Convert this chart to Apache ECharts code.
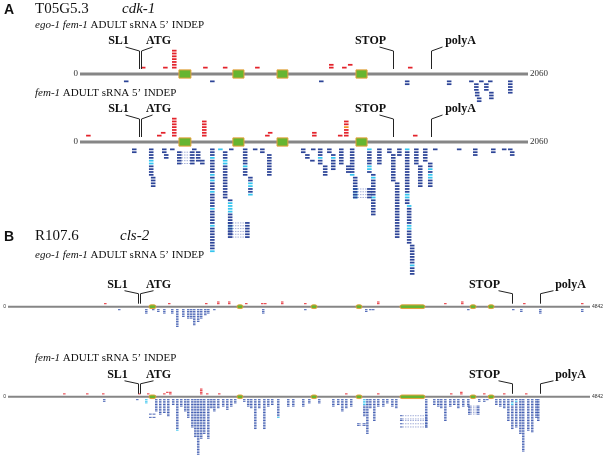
<!DOCTYPE html>
<html><head><meta charset="utf-8">
<script src="https://cdn.jsdelivr.net/npm/echarts@6/dist/echarts.min.js"></script>
<style>html,body{margin:0;padding:0;background:#fff}#c{width:603px;height:461px}</style>
</head><body><div id="c"></div>
<script>
// ---------------- DATA ----------------
const geneLenA = 2060;
const geneLenB = 4842;
const exonsA = [[455,510],[703,754],[906,956],[1269,1320]];
const exonsB = [[1173,1231],[1905,1955],[2521,2571],[2895,2945],[3261,3469],[3844,3894],[3994,4044]];
const annotLabels = ['SL1','ATG','STOP','polyA'];
const annotA = [[270,0],[281,1],[1439,2],[1614,3]];
const annotB = [[1082,0],[1098,1],[4193,2],[4426,3]];

// read stacks: [start bp, first level, last level, highlighted levels]
const a1Sense = [[280,1,1],[382,1,1],[423,1,7],[566,1,1],[657,1,1],[805,1,1],[1145,1,2],[1205,1,1],[1232,2,2],[1508,1,1]];
const a1Anti = [[202,1,1],[598,1,1],[1099,1,1],[1494,1,2],[1687,1,2],[1789,1,1],[1812,2,4],[1816,5,6],[1825,7,8],[1835,1,1],[1858,2,4],[1881,5,7],[1876,1,1],[1968,1,5]];
const a2Sense = [[28,1,1],[354,1,1],[372,2,2],[423,1,7],[561,1,6],[851,1,1],[864,2,2],[1067,1,2],[1186,1,1],[1214,1,6,[4]],[1531,1,1]];
const a2Anti = [[239,1,2],[317,1,10,[5,6]],[326,11,14],[377,1,2],[386,3,4],[414,1,1],[515,1,1],[533,2,5],[552,5,6],
  [598,1,37,[4,10,12,16,22,28,37]],[635,1,1,[1]],[657,2,18,[5,6]],[680,19,31,[20,21,22,23,28,29]],[685,1,1],
  [749,1,10,[7]],[773,11,17,[13,14,17]],[795,1,1],[828,1,2],[860,3,10],[1016,1,2],[1035,3,4],[1058,5,5],[1062,1,1],
  [1094,1,6,[4]],[1117,7,10],[1136,1,2],[1154,3,8,[4]],[1191,1,6],[1223,7,9],[1241,1,10,[10]],[1255,11,18,[15,16,17,18]],
  [1320,1,9,[1,7,8]],[1338,10,24,[11,18]],[1366,1,6],[1412,1,2],[1430,3,12],[1448,13,32],[1458,1,3],
  [1494,1,20,[1,17,18]],[1503,21,34,[21,28,29]],[1517,35,45,[42]],[1536,1,6],[1554,7,14],[1577,1,5],[1600,6,14,[8,10,11]],
  [1623,1,1],[1733,1,1],[1807,1,3],[1890,1,2],[1940,1,1],[1968,1,1],[1977,2,3]];
const a2Spliced = [[446,506,2],[446,506,3],[446,506,4],[446,506,5],[446,506,6],
  [680,759,27],[680,759,28],[680,759,29],[680,759,30],[680,759,31],[680,759,32],
  [1255,1320,15],[1255,1320,16],[1255,1320,17],[1255,1320,18]];

const b1Sense = [[799,1,1],[1331,1,1],[1639,1,1],[1739,1,2],[1830,1,2],[1972,1,1],[2105,1,1],[2130,1,1],[2271,1,2],[2463,1,1],[3070,1,2],[3628,1,1],[3769,1,2],[4285,1,1],[4767,1,1]];
const b1Anti = [[915,1,1],[1140,1,3],[1198,1,1],[1240,1,2],[1290,1,3],[1356,1,3],[1398,1,11],[1448,1,5],[1489,1,6],[1514,1,6],[1539,1,10],[1572,1,8],[1597,1,6],[1631,1,4],[1656,1,3],[1706,1,1],[2113,1,3],[2463,1,1],[2970,1,2],[3004,1,1],[3028,1,1],[3819,1,1],[4193,1,1],[4260,1,2],[4418,1,3],[4767,1,2]];
const b2Sense = [[458,1,1],[649,1,1],[782,1,1],[1082,1,1],[1156,1,1],[1290,1,1],[1315,2,2],[1340,1,2],[1597,1,4],[1647,1,1],[1747,1,1],[2804,1,1],[3070,1,1],[3677,1,1],[3761,1,2],[3952,1,1],[4118,1,1],[4301,1,1]];
const b2Anti = [[790,1,2],[1065,1,1],[1140,1,3,[1,2,3]],[1223,1,8],[1256,1,10],[1290,1,9],[1323,1,11],[1364,1,4],[1398,1,20,[20]],
  [1431,1,5],[1464,1,8],[1489,1,12],[1523,1,18],[1548,1,24],[1572,1,35],[1597,1,25],[1622,1,22],[1656,1,25],[1681,1,6],
  [1706,1,8],[1739,1,6],[1780,1,5],[1814,1,7],[1847,1,5],[1880,1,3],[1955,1,2],[1988,1,5],[2013,1,6],[2047,1,19],[2080,1,6],
  [2122,1,19],[2155,1,5],[2188,1,4],[2238,1,12,[12]],[2321,1,5],[2363,1,5],[2446,1,5],[2496,1,3],[2579,1,3],[2696,1,5],
  [2737,1,4],[2771,1,8],[2804,1,6],[2845,1,5],[2954,1,11,[1,2,3,4]],[2979,1,22],[3004,1,6],[3037,1,14],[3070,1,5],[3112,1,5],
  [3145,1,3],[3187,1,5],[3220,1,6],[3469,1,18],[3536,1,4],[3569,1,5],[3594,1,6],[3628,1,14],[3669,1,5],[3702,1,4],[3736,1,6],
  [3777,1,5],[3819,1,5],[3910,1,2],[3952,1,2],[3977,1,1],[4052,1,4],[4085,1,5],[4118,1,6],[4152,1,14],[4185,1,19,[3,4]],
  [4218,1,18,[2]],[4252,1,22],[4276,1,33],[4318,1,20],[4351,1,21],[4385,1,12],[4401,1,14]];
const b2Spliced = [[1173,1206,10],[1173,1206,12],[2904,2954,16],[2904,2954,17],
  [3261,3469,11],[3261,3469,13],[3261,3469,14],[3261,3469,16],[3261,3469,18],
  [3827,3902,5],[3827,3902,6],[3827,3902,7],[3827,3902,8],[3827,3902,9],[3827,3902,10]];

// ---------------- STYLE / LAYOUT ----------------
const READ_LEN = 21;
const C = {red:'#e3232b', orange:'#f39325', light:'#35c4ee', line:'#868686', exon:'#66b531', exonEdge:'#e7a03b', dash:'#7d8cc9'};
const GEO_A = {left:80, width:448, sp:2.83, gapS:1.25, gapA:1.6, h:0.62, lineW:3, exonH:1.45, exonR:0, blue:'#2c4497',
  vt0:5, vt1:23, vt2:27, labY:33, dx:[-14,11,-14,11], lx:[-21,17,-23,29], endFont:'9px "Liberation Serif"', labFont:'bold 12px "Liberation Serif"'};
const GEO_B = {left:8, width:582, sp:1.67, gapS:0.8, gapA:0.8, h:0.6, lineW:2, exonH:1.1, exonR:2, blue:'#3f5bb0',
  vt0:3, vt1:13, vt2:16, labY:22, dx:[-14,13,-14,13], lx:[-21,18,-28,30], endFont:'5px "Liberation Sans"', labFont:'bold 12px "Liberation Serif"'};

const tracks = [
  {len:geneLenA, exons:exonsA, annot:annotA, sense:a1Sense, anti:a1Anti, spliced:[], g:GEO_A, yMin:-12, yMax:12, lineY:74},
  {len:geneLenA, exons:exonsA, annot:annotA, sense:a2Sense, anti:a2Anti, spliced:a2Spliced, g:GEO_A, yMin:-50, yMax:10, lineY:142},
  {len:geneLenB, exons:exonsB, annot:annotB, sense:b1Sense, anti:b1Anti, spliced:[], g:GEO_B, yMin:-15, yMax:6, lineY:306.7},
  {len:geneLenB, exons:exonsB, annot:annotB, sense:b2Sense, anti:b2Anti, spliced:b2Spliced, g:GEO_B, yMin:-40, yMax:8, lineY:397.3}
];

function expand(stacks){
  const out=[];
  stacks.forEach(s=>{const hi=s[3]||[];for(let l=s[1];l<=s[2];l++)out.push([s[0],l,hi.indexOf(l)>=0?1:0]);});
  return out;
}

const grids=[],xAxes=[],yAxes=[],series=[];
tracks.forEach((t,i)=>{
  const g=t.g;
  grids.push({left:g.left, width:g.width, top:t.lineY - t.yMax*g.sp, height:(t.yMax-t.yMin)*g.sp});
  xAxes.push({type:'value', gridIndex:i, min:0, max:t.len, show:false});
  yAxes.push({type:'value', gridIndex:i, min:t.yMin, max:t.yMax, show:false});
  const base={type:'custom', xAxisIndex:i, yAxisIndex:i, silent:true, animation:false};
  // gene line
  series.push(Object.assign({},base,{data:[[0,0,t.len]], encode:{x:0,y:1}, z:2,
    renderItem:(p,api)=>{
      const a=api.coord([api.value(0),0]), b=api.coord([api.value(2),0]);
      return {type:'group',children:[
        {type:'line',shape:{x1:a[0],y1:a[1],x2:b[0],y2:b[1]},style:{stroke:C.line,lineWidth:g.lineW}},
        {type:'text',x:a[0]-2,y:a[1],style:{text:String(api.value(0)),align:'right',verticalAlign:'middle',font:g.endFont,fill:'#333'}},
        {type:'text',x:b[0]+2,y:a[1],style:{text:String(api.value(2)),align:'left',verticalAlign:'middle',font:g.endFont,fill:'#333'}}
      ]};
    }}));
  // exons
  series.push(Object.assign({},base,{data:t.exons, encode:{x:[0,1]}, z:3,
    renderItem:(p,api)=>{
      const a=api.coord([api.value(0),g.exonH]), b=api.coord([api.value(1),-g.exonH]);
      return {type:'rect',shape:{x:a[0],y:a[1],width:b[0]-a[0],height:b[1]-a[1],r:g.exonR},style:{fill:C.exon,stroke:C.exonEdge,lineWidth:1}};
    }}));
  // reads
  const readSeries=(items,dir,gap,cols)=>Object.assign({},base,{data:expand(items), encode:{x:0,y:1}, z:4,
    renderItem:(p,api)=>{
      const yv=dir*(api.value(1)+gap);
      const a=api.coord([api.value(0),yv+g.h/2]), b=api.coord([api.value(0)+READ_LEN,yv-g.h/2]);
      return {type:'rect',shape:{x:a[0],y:a[1],width:b[0]-a[0],height:b[1]-a[1]},style:{fill:cols[api.value(2)]}};
    }});
  series.push(readSeries(t.sense,1,g.gapS,[C.red,C.orange]));
  series.push(readSeries(t.anti,-1,g.gapA,[g.blue,C.light]));
  // spliced reads
  if(t.spliced.length) series.push(Object.assign({},base,{data:t.spliced, encode:{x:[0,1]}, z:4,
    renderItem:(p,api)=>{
      const yv=-(api.value(2)+g.gapA);
      const l0=api.coord([api.value(0),yv+g.h/2]), l1=api.coord([api.value(0)+READ_LEN,yv-g.h/2]);
      const r0=api.coord([api.value(1),yv+g.h/2]), r1=api.coord([api.value(1)+READ_LEN,yv-g.h/2]);
      const m=api.coord([0,yv])[1];
      return {type:'group',children:[
        {type:'line',shape:{x1:l1[0],y1:m,x2:r0[0],y2:m},style:{stroke:C.dash,lineWidth:0.7,lineDash:[1.5,1]}},
        {type:'rect',shape:{x:l0[0],y:l0[1],width:l1[0]-l0[0],height:l1[1]-l0[1]},style:{fill:g.blue}},
        {type:'rect',shape:{x:r0[0],y:r0[1],width:r1[0]-r0[0],height:r1[1]-r0[1]},style:{fill:g.blue}}
      ]};
    }}));
  // annotations
  series.push(Object.assign({},base,{data:t.annot, encode:{x:0}, z:5,
    renderItem:(p,api)=>{
      const k=api.value(1), a=api.coord([api.value(0),0]);
      const x=Math.round(a[0])+0.5, y=a[1];
      return {type:'group',children:[
        {type:'polyline',shape:{points:[[x,y-g.vt0],[x,y-g.vt1],[x+g.dx[k],y-g.vt2]]},style:{stroke:'#222',lineWidth:1,fill:null}},
        {type:'text',x:x+g.lx[k],y:y-g.labY,style:{text:annotLabels[k],align:'center',verticalAlign:'middle',font:g.labFont,fill:'#111'}}
      ]};
    }}));
});

const serif='"Liberation Serif"';
function T(x,y,text,font,rich){return {type:'text',x:x,y:y,silent:true,style:{text:text,font:font,fill:'#111',align:'left',verticalAlign:'top',rich:rich||{}}};}
const subRich={i:{fontFamily:'Liberation Serif',fontStyle:'italic',fontSize:11,fill:'#111'},n:{fontFamily:'Liberation Serif',fontSize:11,fill:'#111'}};
const graphic=[
  T(4,3,'A','bold 14px "Liberation Sans"'),
  T(35,2,'T05G5.3','15px '+serif),
  T(122,2,'cdk-1','italic 15px '+serif),
  T(35,20,'{i|ego-1 fem-1} {n|ADULT sRNA 5\u2019 INDEP}','11px '+serif,subRich),
  T(35,88,'{i|fem-1} {n|ADULT sRNA 5\u2019 INDEP}','11px '+serif,subRich),
  T(4,230,'B','bold 14px "Liberation Sans"'),
  T(35,229,'R107.6','15px '+serif),
  T(120,229,'cls-2','italic 15px '+serif),
  T(35,250,'{i|ego-1 fem-1} {n|ADULT sRNA 5\u2019 INDEP}','11px '+serif,subRich),
  T(35,353,'{i|fem-1} {n|ADULT sRNA 5\u2019 INDEP}','11px '+serif,subRich)
];

const chart=echarts.init(document.getElementById('c'),null,{renderer:'canvas'});
chart.setOption({animation:false,backgroundColor:'#fff',grid:grids,xAxis:xAxes,yAxis:yAxes,series:series,graphic:graphic});
</script></body></html>
